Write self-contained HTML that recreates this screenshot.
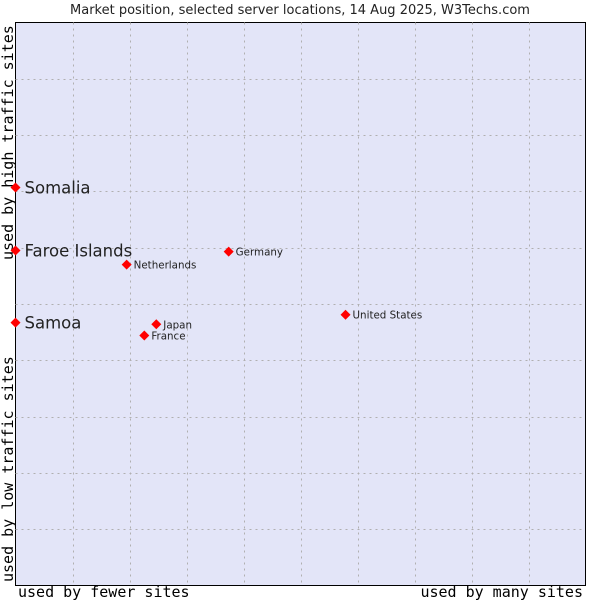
<!DOCTYPE html>
<html><head><meta charset="utf-8"><style>
body{margin:0;background:#fff;}
svg{display:block;}
</style></head><body>
<svg id="chart" width="600" height="600" xmlns="http://www.w3.org/2000/svg">
<text x="300" y="14" text-anchor="middle" font-family="DejaVu Sans, sans-serif" font-size="13" fill="#222">Market position, selected server locations, 14 Aug 2025, W3Techs.com</text>
<rect x="15.5" y="22.5" width="570" height="563" fill="#e3e5f8" stroke="#000" stroke-width="1"/>
<g id="grid"></g>
<text x="18" y="597" font-family="DejaVu Sans Mono, Liberation Mono, monospace" font-size="15" fill="#000">used by fewer sites</text>
<text x="583" y="597" text-anchor="end" font-family="DejaVu Sans Mono, Liberation Mono, monospace" font-size="15" fill="#000">used by many sites</text>
<text transform="translate(13,582) rotate(-90)" font-family="DejaVu Sans Mono, Liberation Mono, monospace" font-size="15" fill="#000">used by low traffic sites</text>
<text transform="translate(13,260) rotate(-90)" font-family="DejaVu Sans Mono, Liberation Mono, monospace" font-size="15" fill="#000">used by high traffic sites</text>
<g id="points"></g>
</svg>
<script>
const names = ["Somalia","Faroe Islands","Samoa","Netherlands","Germany","United States","Japan","France"];
const xVals = [0,0,0,19.5,37.4,57.9,24.7,22.6];
const yVals = [70.7,59.5,46.7,57.0,59.3,48.1,46.4,44.4];
const big = [true,true,true,false,false,false,false,false];
const NS="http://www.w3.org/2000/svg";
const L=15.5,T=22.5,W=570,H=563;
const sx=v=>L+v/100*W, sy=v=>T+H-v/100*H;
const grid=document.getElementById('grid');
for(let i=1;i<10;i++){
  const l=document.createElementNS(NS,'line');
  
  
  const x=Math.round(sx(i*10))+0.5;
  l.setAttribute('x1',x);l.setAttribute('x2',x);l.setAttribute('y1',T);l.setAttribute('y2',T+H);
  l.setAttribute('stroke','#b0b0b0');l.setAttribute('stroke-dasharray','2,4');
  grid.appendChild(l);
  const h=document.createElementNS(NS,'line');
  
  
  const y=Math.round(sy(i*10))+0.5;
  h.setAttribute('x1',L);h.setAttribute('x2',L+W);h.setAttribute('y1',y);h.setAttribute('y2',y);
  h.setAttribute('stroke','#b0b0b0');h.setAttribute('stroke-dasharray','2,4');
  grid.appendChild(h);
}
const pts=document.getElementById('points');
names.forEach((n,i)=>{
  const x=sx(xVals[i]),y=sy(yVals[i]);
  const p=document.createElementNS(NS,'polygon');
  
  
  p.setAttribute('points',`${x},${y-5} ${x+5},${y} ${x},${y+5} ${x-5},${y}`);
  p.setAttribute('fill','#ff0000');
  pts.appendChild(p);
  const t=document.createElementNS(NS,'text');
  
  
  t.setAttribute('x',x+(big[i]?9:7));
  t.setAttribute('y',y+(big[i]?6:4));
  t.setAttribute('font-family','DejaVu Sans, sans-serif');
  t.setAttribute('font-size',big[i]?'16.5':'10.3');
  t.setAttribute('fill','#222');
  t.textContent=n;
  pts.appendChild(t);
});
</script>
</body></html>
